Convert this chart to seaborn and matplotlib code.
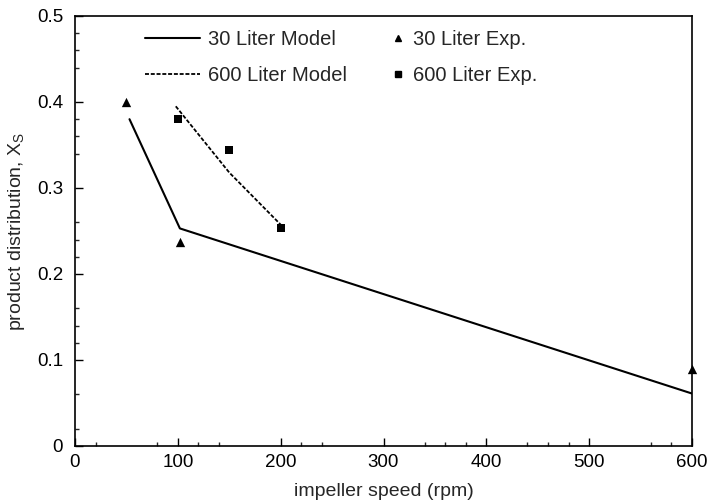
import matplotlib
matplotlib.use("Agg")
import matplotlib.pyplot as plt
import seaborn as sns
import pandas as pd
from matplotlib.ticker import FixedLocator
from matplotlib.lines import Line2D

# Data
model30_rpm = [53, 102, 600]
model30_xs = [0.380, 0.253, 0.061]
model600_rpm = [98, 150, 202]
model600_xs = [0.395, 0.318, 0.255]
exp30_rpm = [50, 102, 600]
exp30_xs = [0.400, 0.237, 0.089]
exp600_rpm = [100, 150, 200]
exp600_xs = [0.380, 0.344, 0.253]

sns.set_style("ticks")
plt.rcParams['font.family'] = ['Liberation Sans', 'DejaVu Sans']
plt.rcParams['mathtext.fontset'] = 'custom'
plt.rcParams['mathtext.rm'] = 'Liberation Sans'

FS = 14.5
TFS = 13.5
LFS = 14
fig = plt.figure(figsize=(7.08, 5.04), dpi=100)
ax = fig.add_axes([75/708, 58/504, 617/708, 430/504])

df30 = pd.DataFrame({"rpm": model30_rpm, "xs": model30_xs})
df600 = pd.DataFrame({"rpm": model600_rpm, "xs": model600_xs})
sns.lineplot(data=df30, x="rpm", y="xs", ax=ax, color="black", lw=1.5, sort=False)
sns.lineplot(data=df600, x="rpm", y="xs", ax=ax, color="black", lw=1.3, sort=False,
             linestyle=(0, (2.2, 1.0)))
sns.scatterplot(x=exp30_rpm, y=exp30_xs, ax=ax, marker="^", color="black", s=45,
                edgecolor="black", linewidth=0, clip_on=False, zorder=5)
sns.scatterplot(x=exp600_rpm, y=exp600_xs, ax=ax, marker="s", color="black", s=38,
                edgecolor="black", linewidth=0, clip_on=False, zorder=5)

ax.set_xlim(0, 600)
ax.set_ylim(0, 0.5)
ax.set_xticks([0, 100, 200, 300, 400, 500, 600])
ax.set_yticks([0, 0.1, 0.2, 0.3, 0.4, 0.5])
ax.set_yticklabels(["0", "0.1", "0.2", "0.3", "0.4", "0.5"])
ax.xaxis.set_minor_locator(FixedLocator([20, 80, 120, 140, 220, 240, 340, 360, 380, 440, 460, 480, 560, 580]))
ax.yaxis.set_minor_locator(FixedLocator([0.02, 0.06, 0.12, 0.14, 0.16, 0.22, 0.24, 0.26, 0.34, 0.36, 0.38, 0.44, 0.46, 0.48]))
ax.tick_params(which='major', direction='in', length=6, width=1, labelsize=TFS,
               top=False, right=False, colors='black')
ax.tick_params(axis='x', which='major', pad=6)
ax.tick_params(axis='y', which='major', pad=8.5)
ax.tick_params(which='minor', direction='in', length=3, width=1, top=False, right=False)
for s in ax.spines.values():
    s.set_visible(True)
    s.set_linewidth(1.2)
    s.set_color('black')

ax.set_xlabel("impeller speed (rpm)", fontsize=LFS, labelpad=8.5)
ax.set_ylabel(r"product distribution, X$_\mathregular{S}$", fontsize=LFS, labelpad=7)

h1 = [Line2D([], [], color='black', lw=1.5),
      Line2D([], [], color='black', lw=1.3, linestyle=(0, (2.2, 1.0)))]
leg1 = ax.legend(h1, ["30 Liter Model", "600 Liter Model"], loc='upper left',
                 bbox_to_anchor=(0.113, 0.967), frameon=False, fontsize=FS,
                 handlelength=2.75, handletextpad=0.4, labelspacing=0.85, borderpad=0,
                 borderaxespad=0)
ax.add_artist(leg1)
h2 = [Line2D([], [], color='black', marker='^', ls='none', markersize=5),
      Line2D([], [], color='black', marker='s', ls='none', markersize=5)]
ax.legend(h2, ["30 Liter Exp.", "600 Liter Exp."], loc='upper left',
          bbox_to_anchor=(0.507, 0.967), frameon=False, fontsize=FS,
          handlelength=1.0, handletextpad=0.25, labelspacing=0.85, borderpad=0,
          borderaxespad=0)

fig.savefig("out.png", dpi=100)
